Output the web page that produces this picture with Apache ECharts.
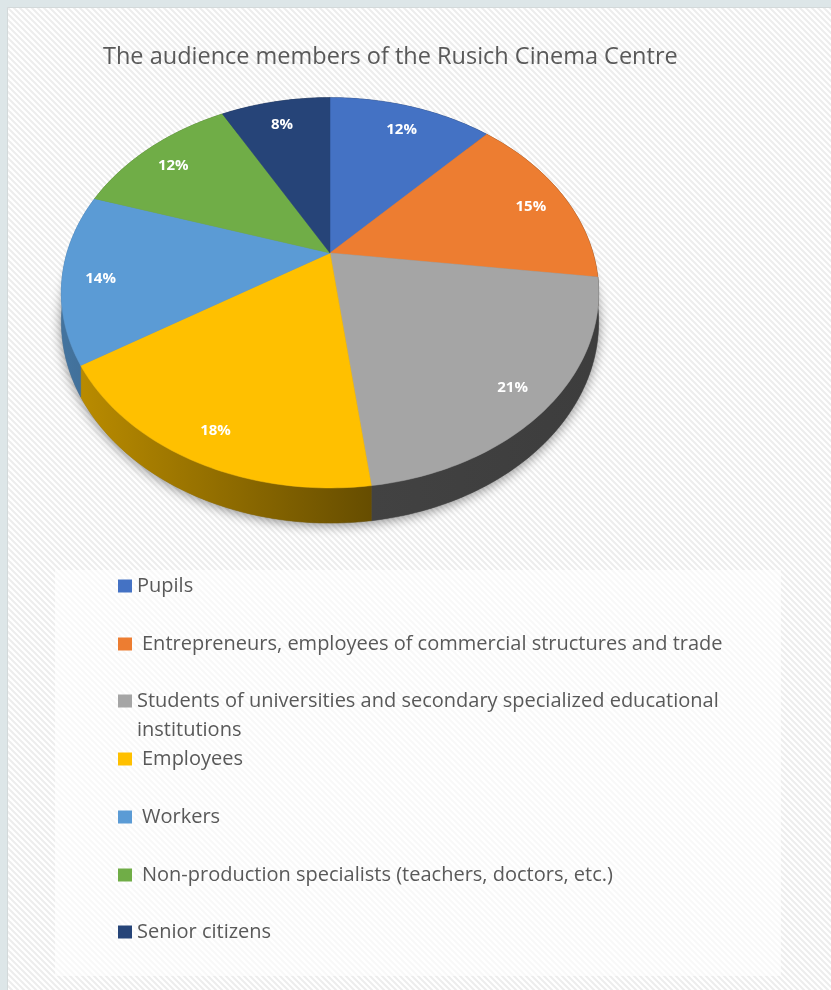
<!DOCTYPE html>
<html><head><meta charset="utf-8">
<script src="https://cdn.jsdelivr.net/npm/echarts@6/dist/echarts.min.js"></script>
<style>html,body{margin:0;padding:0;background:#fff}#c{width:831px;height:990px}</style>
</head><body><div id="c"></div>
<script>
// ---- data ----
const titleText = 'The audience members of the Rusich Cinema Centre';
const categories = [
  'Pupils',
  'Entrepreneurs, employees of commercial structures and trade',
  'Students of universities and secondary specialized educational institutions',
  'Employees',
  'Workers',
  'Non-production specialists (teachers, doctors, etc.)',
  'Senior citizens'
];
const values = [12, 15, 21, 18, 14, 12, 8];
const colors = ['#4472C4', '#ED7D31', '#A5A5A5', '#FFC000', '#5B9BD5', '#70AD47', '#264478'];

// ---- layout / style ----
const G = {cx: 330, cy: 253, A: 263, B: 187, p: 0.204, depth: 28, labelR: 0.86, labelDy: 5};
const legendCenters = [586, 644, 701, 759, 817, 875, 932];
const legendPadLeft = [0, 5, 0, 5, 5, 5, 0];
const LH = 29;

function proj(theta, r) {
  const s = 1 / (1 + G.p * r * Math.cos(theta));
  return [G.cx + G.A * r * Math.sin(theta) * s, G.cy - G.B * r * Math.cos(theta) * s, s];
}
function shade(hex, f) {
  const n = parseInt(hex.slice(1), 16);
  const r = Math.round(((n >> 16) & 255) * f), g = Math.round(((n >> 8) & 255) * f), b = Math.round((n & 255) * f);
  return 'rgb(' + r + ',' + g + ',' + b + ')';
}
const total = values.reduce((a, b) => a + b, 0);

function renderSlice(params, api) {
  const i = params.seriesIndex;
  let before = 0;
  for (let k = 0; k < i; k++) before += values[k];
  const v = api.value(0);
  const a0 = before / total * Math.PI * 2, a1 = (before + v) / total * Math.PI * 2;
  const n = Math.max(2, Math.ceil((a1 - a0) / (Math.PI / 180)));
  const rim = [], bot = [];
  for (let j = 0; j <= n; j++) {
    const t = a0 + (a1 - a0) * j / n;
    const q = proj(t, 1);
    rim.push([q[0], q[1]]);
    bot.push([q[0], q[1] + G.depth * q[2]]);
  }
  const children = [];
  if (i === 0) {
    const base = [];
    for (let j = 0; j <= 360; j++) {
      const q = proj(j * Math.PI / 180, 1);
      base.push([q[0], q[1] + G.depth * q[2]]);
    }
    children.push({type: 'polygon', shape: {points: base}, z2: 0,
      style: {fill: '#777', shadowBlur: 12, shadowColor: 'rgba(0,0,0,0.45)', shadowOffsetY: 2}});
  }
  const c = colors[i];
  const grad = new echarts.graphic.LinearGradient(G.cx - G.A, 0, G.cx + G.A, 0, [
    {offset: 0, color: shade(c, 0.74)},
    {offset: 0.58, color: shade(c, 0.40)},
    {offset: 1, color: shade(c, 0.37)}
  ], true);
  children.push({type: 'polygon', shape: {points: rim.concat(bot.slice().reverse())}, z2: 5,
    style: {fill: grad, stroke: grad, lineWidth: 0.5}});
  children.push({type: 'polygon', shape: {points: [[G.cx, G.cy]].concat(rim)}, z2: 10,
    style: {fill: c, stroke: c, lineWidth: 0.5}});
  const m = proj((a0 + a1) / 2, G.labelR);
  children.push({type: 'text', x: m[0], y: m[1] + G.labelDy, z2: 20,
    style: {text: Math.round(v / total * 100) + '%', fill: '#fff', font: 'bold 15px "Open Sans"', align: 'center', verticalAlign: 'middle'}});
  return {type: 'group', children: children};
}

// background hatch pattern
const pc = document.createElement('canvas');
pc.width = 6; pc.height = 6;
const pg = pc.getContext('2d');
pg.fillStyle = '#ffffff'; pg.fillRect(0, 0, 6, 6);
pg.strokeStyle = '#ededed'; pg.lineWidth = 2;
pg.beginPath();
pg.moveTo(-1, -1); pg.lineTo(7, 7);
pg.moveTo(-1, 5); pg.lineTo(1, 7);
pg.moveTo(5, -1); pg.lineTo(7, 1);
pg.stroke();

const series = categories.map((name, i) => ({
  type: 'custom', name: name, coordinateSystem: 'none', z: 2,
  itemStyle: {color: colors[i]},
  data: [[values[i]]],
  renderItem: renderSlice,
  silent: true
}));

const legends = categories.map((name, i) => {
  const twoLine = i === 2;
  const ts = {fontFamily: 'Open Sans', fontSize: 20, color: '#595959', lineHeight: LH,
    padding: [0, 0, 0, legendPadLeft[i]]};
  const h = twoLine ? LH * 3 : LH;
  return {
    left: 118, top: legendCenters[i] - h / 2, padding: 0, orient: 'vertical',
    itemWidth: 14, itemHeight: 13, icon: 'rect', selectedMode: false,
    data: [{name: name, itemStyle: {color: colors[i]}}],
    formatter: twoLine ? (nm => '\n' + nm.replace('educational ', 'educational\n')) : undefined,
    textStyle: ts
  };
});

const chart = echarts.init(document.getElementById('c'), null, {renderer: 'canvas'});
chart.setOption({
  animation: false,
  color: colors,
  backgroundColor: '#dde6e8',
  title: {text: titleText, left: 103, top: 45, padding: 0,
    textStyle: {fontFamily: 'Open Sans', fontSize: 23.5, fontWeight: 'normal', color: '#595959'}},
  graphic: [
    {type: 'rect', z: -10, silent: true, shape: {x: 7.5, y: 7.5, width: 840, height: 1000},
      style: {fill: {image: pc, repeat: 'repeat'}, stroke: '#d3d9da', lineWidth: 1}},
    {type: 'rect', z: -9, silent: true, shape: {x: 55, y: 570, width: 726, height: 406},
      style: {fill: 'rgba(255,255,255,0.6)'}}
  ],
  legend: legends,
  series: series
});
</script>
</body></html>
